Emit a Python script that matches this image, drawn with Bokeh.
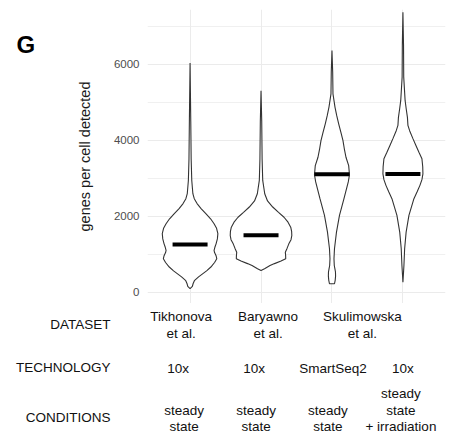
from bokeh.plotting import figure
from bokeh.models import FixedTicker, Grid, Range1d
from bokeh.layouts import column, row
from bokeh.core.properties import value
from bokeh.embed import file_html
from bokeh.resources import INLINE

# ---------------- data ----------------
categories = ["Tikhonova", "Baryawno", "Skulimowska SmartSeq2", "Skulimowska 10x"]
medians = [1250, 1500, 3100, 3110]

# violin outlines: (genes, half-width in px at the reference scale)
v1_vals = [90, 150, 220, 300, 400, 480, 560, 660, 780, 880, 960, 1040, 1100, 1180, 1270, 1400, 1540, 1680, 1800, 1930, 2060, 2200, 2330, 2460, 2590, 2940, 3500, 4500, 6030]
v1_hw   = [0, 2.3, 3.0, 4.3, 8.5, 12.5, 16.5, 20.8, 24.5, 26.7, 26.0, 24.5, 24.0, 24.8, 26.0, 27.3, 27.8, 26.5, 24.0, 20.5, 16.0, 11.0, 7.0, 4.2, 2.8, 1.7, 1.1, 0.7, 0]

v2_vals = [570, 615, 700, 750, 820, 880, 960, 1050, 1150, 1270, 1380, 1490, 1600, 1710, 1840, 1970, 2100, 2240, 2400, 2590, 2940, 3500, 4500, 5300]
v2_hw   = [0, 3.5, 9.0, 13.5, 20.0, 24.7, 24.6, 24.3, 26.0, 27.8, 30.0, 30.8, 30.6, 29.7, 27.0, 23.0, 17.5, 11.7, 6.5, 3.7, 1.7, 1.1, 0.7, 0]

v3_vals = [220, 310, 420, 530, 620, 700, 880, 1140, 1580, 2020, 2460, 2900, 3090, 3330, 3550, 3780, 3990, 4200, 4430, 4650, 4870, 5220, 5800, 6360]
v3_hw   = [2.5, 3.2, 3.6, 3.5, 2.9, 2.3, 2.0, 2.5, 4.5, 7.5, 12.0, 16.3, 17.5, 16.7, 14.0, 12.3, 11.0, 9.0, 6.7, 4.7, 3.0, 1.0, 0.7, 0]

v4_vals = [260, 700, 1140, 1580, 2020, 2460, 2640, 2810, 2960, 3115, 3300, 3510, 3680, 3860, 4040, 4250, 4390, 4600, 4820, 5040, 5660, 6500, 7370]
v4_hw   = [0, 1.0, 1.7, 3.2, 6.0, 11.0, 14.2, 17.0, 19.0, 20.0, 19.8, 19.0, 16.0, 13.0, 10.0, 6.7, 5.0, 4.5, 3.3, 2.2, 0.8, 0.6, 0]

profiles = [(v1_vals, v1_hw), (v2_vals, v2_hw), (v3_vals, v3_hw), (v4_vals, v4_hw)]

y_ticks = [0, 2000, 4000, 6000]
y_minor = [1000, 3000, 5000, 7000]

panel_letter = "G"
row_titles = ["DATASET", "TECHNOLOGY", "CONDITIONS"]
dataset_labels = ["Tikhonova\net al.", "Baryawno\net al.", "Skulimowska\net al."]
dataset_pos = [1, 2, 3.5]
technology_labels = ["10x", "10x", "SmartSeq2", "10x"]
condition_labels = ["steady\nstate", "steady\nstate", "steady\nstate", "steady\nstate\n+ irradiation"]

# ---------------- layout constants ----------------
W, H = 449, 440
GW = 60                     # width of the strip holding the panel letter
FL, FT, FR, FB = 147, 9, 445, 303  # frame edges in page px
XR = (0.4, 4.6)
YR = (-300, 7440)
PX_PER_CAT = (FR - FL) / (XR[1] - XR[0])
FONT = "Liberation Sans"

def px2x(px):
    return XR[0] + (px - FL) / PX_PER_CAT

# ---------------- main panel ----------------
p = figure(width=W - GW, height=FB, x_range=XR, y_range=YR, output_backend="svg",
           toolbar_location=None, x_axis_type=None,
           min_border_left=FL - GW, min_border_right=W - FR,
           min_border_top=FT, min_border_bottom=0)
p.outline_line_color = None
p.add_layout(Grid(dimension=0, ticker=FixedTicker(ticks=[1, 2, 3, 4]),
                  grid_line_color="#ebebeb", grid_line_width=1))

p.yaxis.ticker = FixedTicker(ticks=y_ticks, minor_ticks=y_minor)
p.ygrid.grid_line_color = "#ebebeb"
p.ygrid.grid_line_width = 1
p.ygrid.minor_grid_line_color = "#f0f0f0"
p.ygrid.minor_grid_line_width = 1
p.yaxis.axis_line_color = None
p.yaxis.major_tick_line_color = None
p.yaxis.minor_tick_line_color = None
p.yaxis.major_tick_out = 0
p.yaxis.major_tick_in = 0
p.yaxis.minor_tick_out = 0
p.yaxis.minor_tick_in = 0
p.yaxis.major_label_standoff = 8
p.yaxis.major_label_text_font = FONT
p.yaxis.major_label_text_font_size = "11.5px"
p.yaxis.major_label_text_color = "#4d4d4d"
p.yaxis.axis_label = "genes per cell detected"
p.yaxis.axis_label_text_font = FONT
p.yaxis.axis_label_text_font_size = "14.5px"
p.yaxis.axis_label_text_font_style = "normal"
p.yaxis.axis_label_text_color = "#1a1a1a"
p.yaxis.axis_label_standoff = 18

xs, ys = [], []
for i, (vals, hw) in enumerate(profiles):
    c = i + 1
    left = [c - w / PX_PER_CAT for w in hw]
    right = [c + w / PX_PER_CAT for w in hw]
    xs.append(left + right[::-1])
    ys.append(list(vals) + list(vals)[::-1])
p.patches(xs, ys, fill_color="white", line_color="#333333", line_width=1.1)

bar_half = 17.5 / PX_PER_CAT
p.segment(x0=[i + 1 - bar_half for i in range(4)], x1=[i + 1 + bar_half for i in range(4)],
          y0=medians, y1=medians, line_color="black", line_width=4, line_cap="butt")

# ---------------- panel letter strip ----------------
g = figure(width=GW, height=FB, x_range=Range1d(0, GW), y_range=Range1d(FB, 0),
           output_backend="svg", toolbar_location=None, x_axis_type=None, y_axis_type=None,
           min_border=0)
g.outline_line_color = None
g.grid.visible = False
g.text(x=[16], y=[36], text=[panel_letter], text_align="left", text_baseline="middle",
       text_font=value(FONT), text_font_size="24px", text_font_style="bold", text_color="black")

# ---------------- table below ----------------
t = figure(width=W, height=H - FB, x_range=Range1d(px2x(0), px2x(W)), y_range=Range1d(H, FB),
           output_backend="svg", toolbar_location=None, x_axis_type=None, y_axis_type=None,
           min_border=0)
t.outline_line_color = None
t.grid.visible = False

LINE = 16.5
for txt, py in zip(row_titles, [324, 367, 417]):
    t.text(x=[px2x(110)], y=[py], text=[txt], text_align="right", text_baseline="middle",
           text_font=value(FONT), text_font_size="13.5px", text_color="#111111")

tx, ty, tt, to = [], [], [], []
ds_off = [-9, 7, -5]
for txt, x, o in zip(dataset_labels, dataset_pos, ds_off):
    for j, line in enumerate(txt.split("\n")):
        tx.append(x); ty.append(316 + j * LINE); tt.append(line); to.append(o)

tech_off = [-12, -7, 1, 0]
for i, (txt, o) in enumerate(zip(technology_labels, tech_off)):
    tx.append(i + 1); ty.append(368); tt.append(txt); to.append(o)

cond_off = [-6, -5, -4, -2]
for i, (txt, o) in enumerate(zip(condition_labels, cond_off)):
    lines = txt.split("\n")
    n = len(lines)
    for j, line in enumerate(lines):
        tx.append(i + 1); ty.append(426 - (n - 1 - j) * LINE); tt.append(line); to.append(o)

t.text(x=tx, y=ty, text=tt, x_offset=to, text_align="center", text_baseline="middle",
       text_font=value(FONT), text_font_size="13.5px", text_color="#111111")

layout = column(row(g, p, spacing=0), t, spacing=0)
open("out.html", "w").write(file_html(layout, INLINE))
